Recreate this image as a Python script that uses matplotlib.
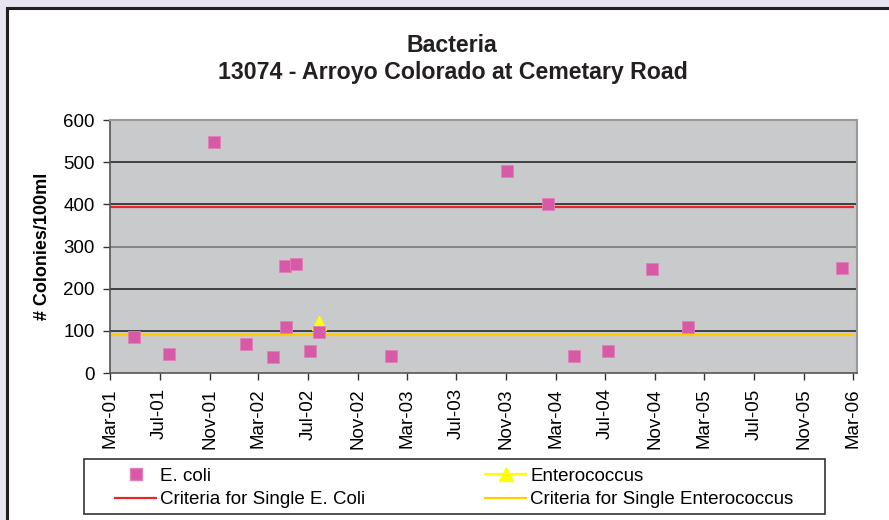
import matplotlib
matplotlib.use("Agg")
import matplotlib.pyplot as plt
import matplotlib.dates as mdates
from matplotlib.patches import Rectangle
from matplotlib.lines import Line2D
from datetime import datetime

plt.rcParams['font.family'] = ['Liberation Sans', 'DejaVu Sans']

# E. coli samples (colonies/100ml)
ecoli_dates = ["2001-04-30", "2001-07-23", "2001-11-12", "2002-01-30", "2002-04-06",
               "2002-05-05", "2002-05-08", "2002-06-02", "2002-07-07", "2002-07-28",
               "2003-01-22", "2003-11-02", "2004-02-11", "2004-04-14", "2004-07-07",
               "2004-10-25", "2005-01-20", "2006-02-02"]
ecoli_vals = [85, 46, 548, 69, 37, 253, 110, 258, 53, 97,
              40, 480, 400, 40, 51, 247, 109, 250]

entero_dates = ["2002-07-28"]
entero_vals = [118]

criteria_dates = ["2001-03-01", "2006-03-01"]
ecoli_criteria = [394, 394]
entero_criteria = [89, 89]

def to_dt(lst):
    return [datetime.strptime(s, "%Y-%m-%d") for s in lst]

W, H = 889, 520
fig = plt.figure(figsize=(W / 100, H / 100), dpi=100)
fig.patch.set_facecolor('#E9E4F1')

# white panel with dark border
panel = Rectangle((7 / W, -0.1), 1.2, (H - 8) / H + 0.1, transform=fig.transFigure,
                  facecolor='white', edgecolor='#231F20', lw=2.2, zorder=-10)
fig.add_artist(panel)

ax = fig.add_axes([110 / W, (H - 373) / H, (857 - 110) / W, (373 - 120) / H])
ax.set_facecolor('#C9CACC')

for y in [100, 200, 300, 400, 500]:
    gc = '#707070' if y == 300 else '#1a1a1a'
    ax.axhline(y, color=gc, lw=1.1, zorder=1)

ax.plot(to_dt(criteria_dates), ecoli_criteria, color='#E8262B', lw=1.6, zorder=2)
ax.plot(to_dt(criteria_dates), entero_criteria, color='#FFCC00', lw=1.6, zorder=2)
ax.plot(to_dt(ecoli_dates), ecoli_vals, linestyle='none', marker='s', markersize=8.6,
        markerfacecolor='#D75AA6', markeredgecolor='#E07FB8', markeredgewidth=0.6, zorder=4)
ax.plot(to_dt(entero_dates), entero_vals, linestyle='none', marker='^', markersize=10,
        markerfacecolor='#FFFF00', markeredgecolor='#FFFF00', zorder=3)

ax.set_ylim(0, 600)
ax.set_yticks([0, 100, 200, 300, 400, 500, 600])
ax.set_xlim(datetime(2001, 3, 1), datetime(2006, 3, 12))
ax.xaxis.set_major_locator(mdates.MonthLocator(bymonth=[3, 7, 11]))
ax.xaxis.set_major_formatter(mdates.DateFormatter('%b-%y'))
ax.tick_params(axis='both', labelsize=13.5, length=5, width=1, color='#333333', direction='out')
ax.tick_params(axis='y', pad=6)
ax.tick_params(axis='x', pad=6, labelrotation=90)

for s in ['left', 'bottom']:
    ax.spines[s].set_color('#555555')
    ax.spines[s].set_linewidth(1.2)
for s in ['top', 'right']:
    ax.spines[s].set_color('#999999')
    ax.spines[s].set_linewidth(1.5)

fig.text(43 / W, 1 - 246 / H, '# Colonies/100ml', rotation=90, fontsize=13,
         fontweight='bold', ha='center', va='center')

fig.text(452 / W, 1 - 45 / H, 'Bacteria', fontsize=16.7, fontweight='bold',
         ha='center', va='center', color='#231F20')
fig.text(453 / W, 1 - 73 / H, '13074 - Arroyo Colorado at Cemetary Road', fontsize=16.7,
         fontweight='bold', ha='center', va='center', color='#231F20')

# legend box
fig.add_artist(Rectangle((84 / W, 1 - 514 / H), (825 - 84) / W, (514 - 459) / H,
                         transform=fig.transFigure, facecolor='white',
                         edgecolor='#333333', lw=1.2, zorder=5))

h_ecoli = Line2D([], [], linestyle='none', marker='s', markersize=8.6,
                 markerfacecolor='#D75AA6', markeredgecolor='#E07FB8')
h_ecrit = Line2D([], [], color='#E8262B', lw=1.6)
h_entero = Line2D([], [], color='#FFFF00', lw=1.6, marker='^', markersize=10,
                  markerfacecolor='#FFFF00', markeredgecolor='#FFFF00')
h_ncrit = Line2D([], [], color='#FFCC00', lw=1.6)

leg_kw = dict(loc='center left', frameon=False, fontsize=13.5, borderpad=0,
              borderaxespad=0, handlelength=2.2, handletextpad=0.2, labelspacing=0.35)
l1 = fig.legend([h_ecoli, h_ecrit], ['E. coli', 'Criteria for Single E. Coli'],
                bbox_to_anchor=(115 / W, 1 - 488 / H), **leg_kw)
l2 = fig.legend([h_entero, h_ncrit], ['Enterococcus', 'Criteria for Single Enterococcus'],
                bbox_to_anchor=(485 / W, 1 - 488 / H), **leg_kw)
l1.set_zorder(6)
l2.set_zorder(6)

fig.savefig('out.png', dpi=100, facecolor=fig.get_facecolor())
